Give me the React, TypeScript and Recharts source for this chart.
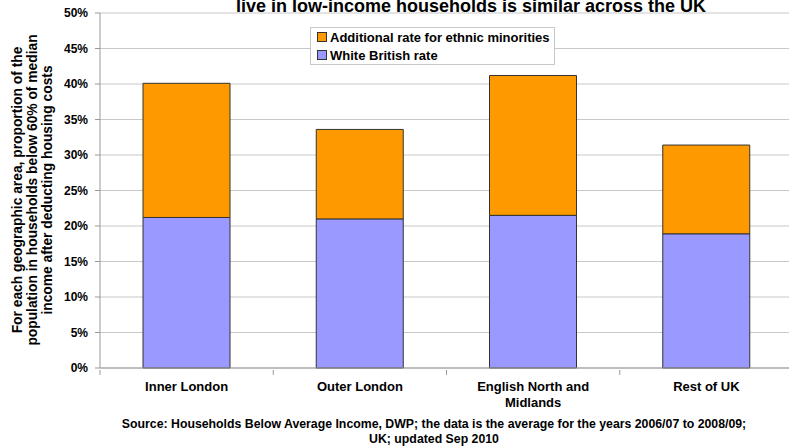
import { Bar, BarChart, CartesianGrid, Text, XAxis, YAxis } from 'recharts';

const categories = ['Inner London', 'Outer London', 'English North and Midlands', 'Rest of UK'];
const whiteBritishRate = [21.2, 21.0, 21.5, 18.9];
const additionalRate = [18.9, 12.6, 19.7, 12.5];
const yTicks = [0, 5, 10, 15, 20, 25, 30, 35, 40, 45, 50];

const seriesNames = {
  white: 'White British rate',
  extra: 'Additional rate for ethnic minorities',
};

const title = 'live in low-income households is similar across the UK';
const yLabelLines = [
  'For each geographic area, proportion of the',
  'population in households below 60% of median',
  'income after deducting housing costs',
];
const sourceLines = [
  'Source: Households Below Average Income, DWP; the data is the average for the years 2006/07 to 2008/09;',
  'UK; updated Sep 2010',
];

const data = categories.map((name, i) => ({
  name,
  white: whiteBritishRate[i],
  extra: additionalRate[i],
}));

const FONT = '"Liberation Sans", Arial, sans-serif';
const ORANGE = '#ff9900';
const LILAC = '#9999ff';

const W = 800;
const H = 447;
const MARGIN = { top: 13, right: 7, bottom: 39, left: 40 };
const Y_AXIS_W = 60;
const PLOT_LEFT = MARGIN.left + Y_AXIS_W;
const PLOT_W = W - MARGIN.right - PLOT_LEFT;
const BAND = PLOT_W / categories.length;

// category label plus Excel-style tick marks on the band edges
function CategoryTick(props: any) {
  const { x, y, payload, index } = props;
  const left = x - BAND / 2;
  return (
    <g>
      <line x1={left} x2={left} y1={y - 8} y2={y - 3} stroke="#999" />
      {index === categories.length - 1 && (
        <line x1={left + BAND} x2={left + BAND} y1={y - 8} y2={y - 3} stroke="#999" />
      )}
      <Text
        x={x}
        y={y + 4}
        width={150}
        textAnchor="middle"
        verticalAnchor="start"
        lineHeight={16}
        style={{ fontFamily: FONT, fontSize: 13, fontWeight: 'bold', fill: '#000' }}
      >
        {payload.value}
      </Text>
    </g>
  );
}

function LegendBox() {
  const items = [
    { color: ORANGE, label: seriesNames.extra },
    { color: LILAC, label: seriesNames.white },
  ];
  return (
    <div
      style={{
        position: 'absolute',
        left: 310,
        top: 27,
        width: 245,
        height: 38,
        border: '1px solid #c8c8c8',
        background: '#fff',
        fontFamily: FONT,
        fontSize: 13,
        fontWeight: 'bold',
        boxSizing: 'border-box',
        padding: '0 0 0 6px',
      }}
    >
      {items.map((it) => (
        <div key={it.label} style={{ display: 'flex', alignItems: 'center', height: 18 }}>
          <span
            style={{
              display: 'inline-block',
              width: 8,
              height: 8,
              background: it.color,
              border: '1px solid #333',
              marginRight: 3,
            }}
          />
          {it.label}
        </div>
      ))}
    </div>
  );
}

export default function App() {
  return (
    <div style={{ position: 'fixed', left: 0, top: 0, width: 789, height: 447, overflow: 'hidden', background: '#fff' }}>
      <BarChart width={W} height={H} data={data} margin={MARGIN} barSize={87}>
        <CartesianGrid vertical={false} stroke="#c8c8c8" />
        <XAxis
          dataKey="name"
          height={40}
          interval={0}
          stroke="#999"
          tickLine={false}
          tick={<CategoryTick />}
          tickSize={8}
        />
        <YAxis
          width={Y_AXIS_W}
          domain={[0, 50]}
          ticks={yTicks}
          interval={0}
          stroke="#999"
          tickSize={5}
          tickMargin={7}
          tickFormatter={(v: number) => `${v}%`}
          tick={{ fill: '#000', fontFamily: FONT, fontSize: 12, fontWeight: 'bold' }}
        />
        <Bar dataKey="white" name={seriesNames.white} stackId="a" fill={LILAC} stroke="#333" strokeWidth={1} isAnimationActive={false} />
        <Bar dataKey="extra" name={seriesNames.extra} stackId="a" fill={ORANGE} stroke="#333" strokeWidth={1} isAnimationActive={false} />
      </BarChart>
      <svg width={789} height={447} style={{ position: 'absolute', left: 0, top: 0, pointerEvents: 'none' }}>
        <text x={471} y={12} textAnchor="middle" fontFamily={FONT} fontSize={18} fontWeight="bold" fill="#000">
          {title}
        </text>
        {yLabelLines.map((line, i) => (
          <text
            key={line}
            transform={`translate(${22 + i * 15}, 190) rotate(-90)`}
            textAnchor="middle"
            fontFamily={FONT}
            fontSize={13.8}
            fontWeight="bold"
            fill="#000"
          >
            {line}
          </text>
        ))}
        {sourceLines.map((line, i) => (
          <text
            key={line}
            x={434}
            y={428 + i * 15}
            textAnchor="middle"
            fontFamily={FONT}
            fontSize={12.3}
            fontWeight="bold"
            fill="#000"
          >
            {line}
          </text>
        ))}
      </svg>
      <LegendBox />
    </div>
  );
}
